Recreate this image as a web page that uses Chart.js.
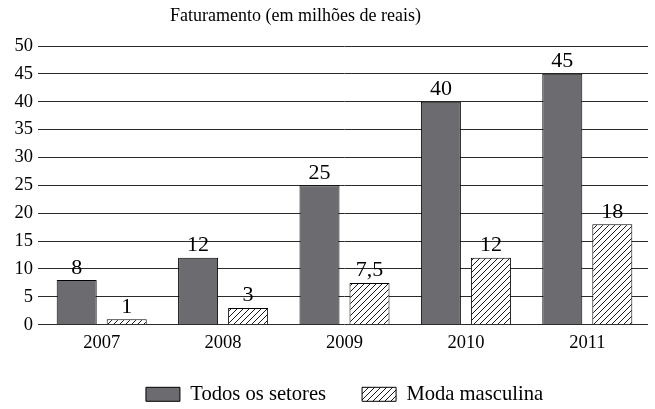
<!DOCTYPE html>
<html>
<head>
<meta charset="utf-8">
<script src="https://cdn.jsdelivr.net/npm/chart.js@4/dist/chart.umd.min.js"></script>
<style>
  html, body { margin: 0; padding: 0; background: #fff; }
  #wrap { width: 655px; height: 409px; }
</style>
</head>
<body>
<div id="wrap"><canvas id="c" width="655" height="409"></canvas></div>
<script>
const categories = ['2007', '2008', '2009', '2010', '2011'];
const todosSetores = [8, 12, 25, 40, 45];
const modaMasculina = [1, 3, 7.5, 12, 18];
const seriesNames = ['Todos os setores', 'Moda masculina'];
const chartTitle = 'Faturamento (em milhões de reais)';
const yMin = 0, yMax = 50, yStep = 5;

const SERIF = '"Liberation Serif", "Times New Roman", serif';

function makeHatch() {
  const s = 6;
  const c = document.createElement('canvas');
  c.width = s; c.height = s;
  const g = c.getContext('2d');
  g.fillStyle = '#ffffff';
  g.fillRect(0, 0, s, s);
  g.strokeStyle = '#1a1a1a';
  g.lineWidth = 1;
  g.beginPath();
  g.moveTo(0, s); g.lineTo(s, 0);
  g.moveTo(-1, 1); g.lineTo(1, -1);
  g.moveTo(s - 1, s + 1); g.lineTo(s + 1, s - 1);
  g.stroke();
  return g.createPattern(c, 'repeat');
}

const titlePlugin = {
  id: 'refTitle',
  afterDraw(chart) {
    const ctx = chart.ctx;
    ctx.save();
    ctx.font = '18px ' + SERIF;
    ctx.fillStyle = '#000';
    ctx.textAlign = 'left';
    ctx.textBaseline = 'middle';
    ctx.fillText(chartTitle, 170, 16.5);
    ctx.restore();
  }
};

const valueLabels = {
  id: 'valueLabels',
  afterDatasetsDraw(chart) {
    const ctx = chart.ctx;
    ctx.save();
    ctx.font = '22px ' + SERIF;
    ctx.fillStyle = '#000';
    ctx.textAlign = 'center';
    ctx.textBaseline = 'alphabetic';
    chart.data.datasets.forEach((ds, di) => {
      const meta = chart.getDatasetMeta(di);
      meta.data.forEach((el, i) => {
        const txt = String(ds.data[i]).replace('.', ',');
        ctx.fillText(txt, el.x, el.y - 6.5);
      });
    });
    ctx.restore();
  }
};

new Chart(document.getElementById('c'), {
  type: 'bar',
  data: {
    labels: categories,
    datasets: [
      {
        label: seriesNames[0],
        data: todosSetores,
        backgroundColor: '#6c6c70',
        borderColor: '#000',
        borderWidth: 1,
        barPercentage: 0.8,
        categoryPercentage: 0.824
      },
      {
        label: seriesNames[1],
        data: modaMasculina,
        backgroundColor: makeHatch(),
        borderColor: '#000',
        borderWidth: 1,
        barPercentage: 0.8,
        categoryPercentage: 0.824
      }
    ]
  },
  options: {
    responsive: false,
    devicePixelRatio: 1,
    animation: false,
    layout: { padding: { top: 46, left: 0, right: 7, bottom: 1 } },
    plugins: {
      title: { display: false },
      tooltip: { enabled: false },
      legend: {
        display: true,
        position: 'bottom',
        fullSize: false,
        maxHeight: 60,
        labels: {
          boxWidth: 34,
          boxHeight: 14,
          padding: 36,
          color: '#000',
          font: { family: SERIF, size: 20.6 }
        }
      }
    },
    scales: {
      x: {
        grid: { display: false, drawTicks: false },
        border: { display: false },
        ticks: {
          color: '#000',
          padding: 7,
          font: { family: SERIF, size: 18.5 }
        },
        afterFit(scale) { scale.height = 23.3; }
      },
      y: {
        min: yMin,
        max: yMax,
        grid: { color: '#2a2a2a', lineWidth: 1, tickLength: 3, drawTicks: true },
        border: { display: false },
        ticks: {
          stepSize: yStep,
          color: '#000',
          padding: 5,
          font: { family: SERIF, size: 18.5 }
        },
        afterFit(scale) { scale.width = 41; }
      }
    }
  },
  plugins: [titlePlugin, valueLabels]
});
</script>
</body>
</html>
